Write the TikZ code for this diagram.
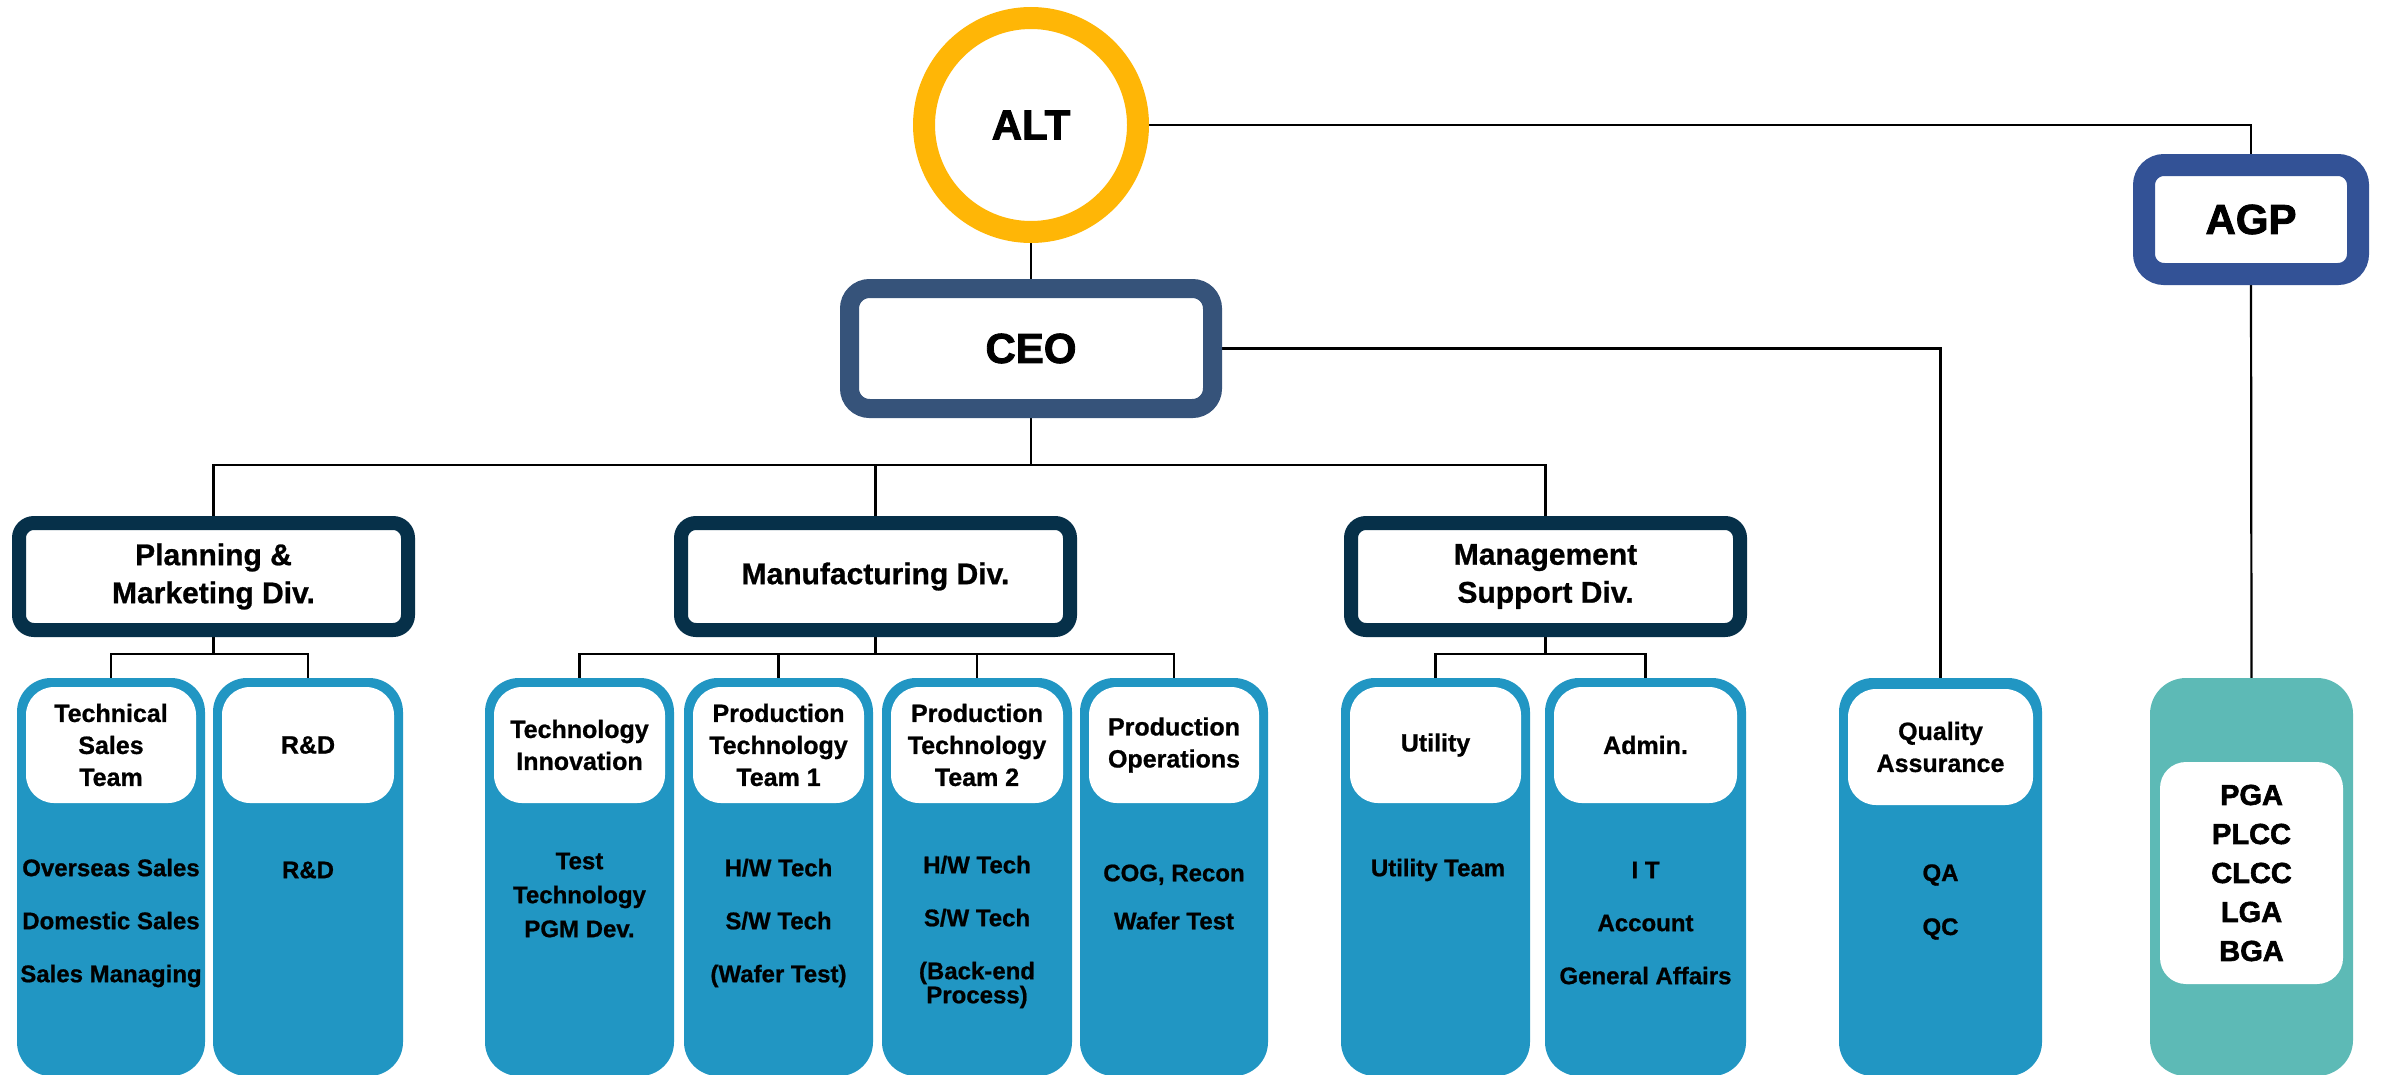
\documentclass[tikz,border=0pt]{standalone}
\usepackage{fontspec}
\setmainfont{Liberation Sans}[BoldFeatures={FakeBold=0.8}]
\newfontfamily\orgheavy{Liberation Sans}[BoldFeatures={FakeBold=2}]
\usetikzlibrary{calc}
\pgfdeclarelayer{bg}
\pgfsetlayers{bg,main}

\definecolor{altgold}{HTML}{FFB606}
\definecolor{ceoslate}{HTML}{36537A}
\definecolor{divnavy}{HTML}{063049}
\definecolor{agpblue}{HTML}{335296}
\definecolor{cardblue}{HTML}{2196C3}
\definecolor{cardteal}{HTML}{5DBAB6}

\newcommand\orgtitlefont{\orgheavy\fontsize{42}{50}\selectfont\bfseries}
\newcommand\orgdivfont{\fontsize{30}{38}\selectfont\bfseries}
\newcommand\orgheadfont{\fontsize{25}{32}\selectfont\bfseries}
\newcommand\orglistfont{\fontsize{24}{53}\selectfont\bfseries}

\tikzset{
  link/.style={draw=black, line width=2.2pt},
  altring/.style={circle, draw=altgold, line width=22pt, fill=white,
    minimum size=214pt, inner sep=0pt, font=\orgtitlefont},
  ceobox/.style={draw=ceoslate, line width=19pt, rounded corners=20pt, fill=white,
    minimum width=363pt, minimum height=120pt, inner sep=0pt, font=\orgtitlefont},
  agpbox/.style={draw=agpblue, line width=22pt, rounded corners=20pt, fill=white,
    minimum width=214pt, minimum height=109pt, inner sep=0pt, font=\orgtitlefont},
  divbox/.style={draw=divnavy, line width=14pt, rounded corners=15pt, fill=white,
    minimum width=389pt, minimum height=107pt, inner sep=0pt, align=center, font=\orgdivfont},
  card/.style={fill=cardblue, rounded corners=34pt, minimum height=398pt,
    minimum width=#1, inner sep=0pt},
  tealcard/.style={fill=cardteal, rounded corners=36pt, minimum height=398pt,
    minimum width=#1, inner sep=0pt},
  headbox/.style={fill=white, rounded corners=28pt, minimum height=116pt,
    minimum width=#1, inner sep=0pt, align=center, font=\orgheadfont},
  listtext/.style={align=center, inner sep=0pt, font=\orglistfont},
}

\begin{document}
\begin{tikzpicture}[x=1pt, y=-1pt]
\useasboundingbox (0,0) rectangle (2381,1074);

% top level
\node[altring] (alt) at (1031,125) {ALT};
\node[ceobox] (ceo) at (1031,348.5) {CEO};
\node[agpbox] (agp) at (2251,219.5) {AGP};

% divisions
\node[divbox] (pm) at (213.5,576.5) {Planning \&\\Marketing Div.};
\node[divbox] (mf) at (875.5,576.5) {Manufacturing Div.};
\node[divbox] (mg) at (1545.5,576.5) {Management\\Support Div.};

% team cards
\node[card=188pt] (ts)  at (111,877) {};
\node[card=190pt] (rd)  at (308,877) {};
\node[card=189pt] (ti)  at (579.5,877) {};
\node[card=189pt] (pt1) at (778.5,877) {};
\node[card=190pt] (pt2) at (977,877) {};
\node[card=188pt] (po)  at (1174,877) {};
\node[card=189pt] (ut)  at (1435.5,877) {};
\node[card=201pt] (ad)  at (1645.5,877) {};
\node[card=203pt] (qa)  at (1940.5,877) {};
\node[tealcard=203pt] (gr) at (2251.5,877) {};

% card headings
\node[headbox=170pt] (tsh)  at (111,745) {Technical\\Sales\\Team};
\node[headbox=172pt] (rdh)  at (308,745) {R\&D};
\node[headbox=171pt] (tih)  at (579.5,745) {Technology\\Innovation};
\node[headbox=171pt] (pt1h) at (778.5,745) {Production\\Technology\\Team 1};
\node[headbox=172pt] (pt2h) at (977,745) {Production\\Technology\\Team 2};
\node[headbox=170pt] (poh)  at (1174,745) {Production\\Operations};
\node[headbox=171pt] (uth)  at (1435.5,745) {Utility};
\node[headbox=183pt] (adh)  at (1645.5,745) {Admin.};
\node[headbox=185pt] (qah)  at (1940.5,747) {Quality\\Assurance};

% card contents
\node[listtext] (tsb)  at (111,923) {Overseas Sales\\Domestic Sales\\Sales Managing};
\node[listtext] (rdb)  at (308,870) {R\&D};
\node[listtext, font=\fontsize{24}{34}\selectfont\bfseries] (tib) at (579.5,895) {Test\\Technology\\PGM Dev.};
\node[listtext] (pt1b) at (778.5,923) {H/W Tech\\S/W Tech\\(Wafer Test)};
\node[listtext] (pt2b) at (977,932) {H/W Tech\\S/W Tech\\(Back-end\\[-29pt]Process)};
\node[listtext, font=\fontsize{24}{48}\selectfont\bfseries] (pob) at (1174,897) {COG, Recon\\Wafer Test};
\node[listtext] (utb)  at (1438,870) {Utility Team};
\node[listtext] (adb)  at (1645.5,923) {I T\\Account\\General Affairs};
\node[listtext, font=\fontsize{24}{54}\selectfont\bfseries] (qab) at (1940.5,902) {QA\\QC};
\node[headbox=183pt, minimum height=222pt, rounded corners=26pt,
      font=\orgheavy\fontsize{29}{39}\selectfont\bfseries] (grb) at (2251.5,873)
      {PGA\\PLCC\\CLCC\\LGA\\BGA};

% connector rails
\coordinate (busy) at (0,465);
\coordinate (suby) at (0,654);

\begin{pgfonlayer}{bg}
  \draw[link] (alt.south) -- (ceo.north);
  \draw[link] (alt.east) -| (agp.north);
  \draw[link] (agp.south) -- (gr.north);
  \draw[link] (ceo.east) -| (qa.north);
  \draw[link] (ceo.south) -- (ceo.south |- busy);
  \draw[link] (pm.north) -- (pm.north |- busy) -- (mg.north |- busy) -- (mg.north);
  \draw[link] (mf.north) -- (mf.north |- busy);
  % planning & marketing
  \draw[link] (pm.south) -- (pm.south |- suby);
  \draw[link] (ts.north) -- (ts.north |- suby) -- (rd.north |- suby) -- (rd.north);
  % manufacturing
  \draw[link] (mf.south) -- (mf.south |- suby);
  \draw[link] (ti.north) -- (ti.north |- suby) -- (po.north |- suby) -- (po.north);
  \draw[link] (pt1.north) -- (pt1.north |- suby);
  \draw[link] (pt2.north) -- (pt2.north |- suby);
  % management support
  \draw[link] (mg.south) -- (mg.south |- suby);
  \draw[link] (ut.north) -- (ut.north |- suby) -- (ad.north |- suby) -- (ad.north);
\end{pgfonlayer}
\end{tikzpicture}
\end{document}
